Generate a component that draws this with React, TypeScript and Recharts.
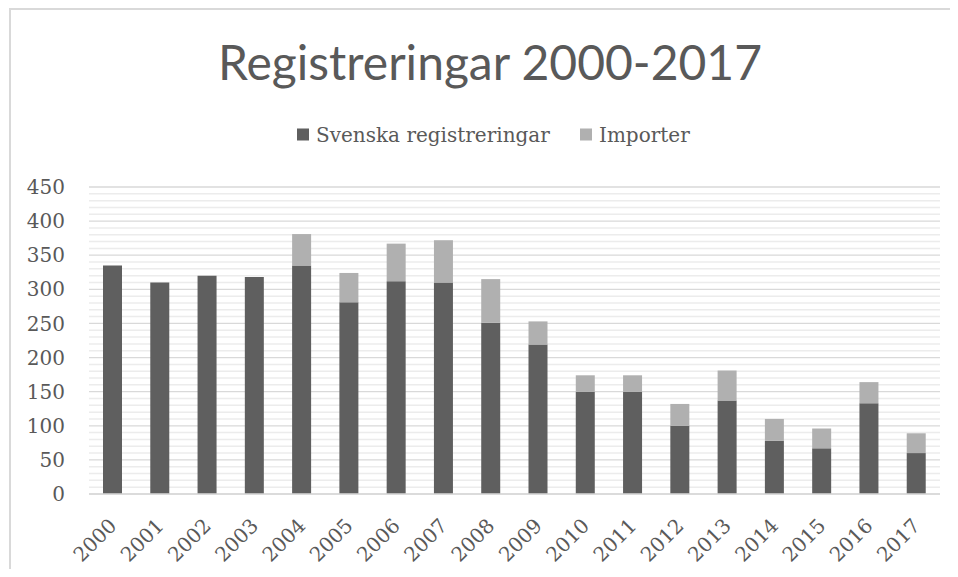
import React from 'react';
import { BarChart, Bar, XAxis, YAxis, CartesianGrid } from 'recharts';

const years = ['2000', '2001', '2002', '2003', '2004', '2005', '2006', '2007', '2008', '2009', '2010', '2011', '2012', '2013', '2014', '2015', '2016', '2017'];
const svenska = [335, 310, 320, 318, 335, 281, 312, 310, 251, 219, 150, 150, 100, 137, 78, 67, 133, 60];
const importer = [0, 0, 0, 0, 46, 43, 55, 62, 64, 34, 24, 24, 32, 44, 32, 29, 31, 29];
const yTicks = [0, 50, 100, 150, 200, 250, 300, 350, 400, 450];
const minorValues = [10, 20, 30, 40, 60, 70, 80, 90, 110, 120, 130, 140, 160, 170, 180, 190, 210, 220, 230, 240, 260, 270, 280, 290, 310, 320, 330, 340, 360, 370, 380, 390, 410, 420, 430, 440];
const yDomain = [0, 450];

const title = 'Registreringar 2000-2017';
const seriesNames = ['Svenska registreringar', 'Importer'];

const data = years.map((y, i) => ({ year: y, svenska: svenska[i], importer: importer[i] }));

const DARK = '#5f5f5f';
const LIGHT = '#b0b0b0';
const TEXT = '#595959';
const SERIF = "'DejaVu Serif', serif";

const XTick = (props: any) => {
  const { x, y, payload } = props;
  const ax = x + 5;
  const ay = y + 33;
  return (
    <text x={ax} y={ay} transform={`rotate(-45, ${ax}, ${ay})`} textAnchor="end" fill={TEXT} fontSize={20} fontFamily={SERIF}>
      {payload.value}
    </text>
  );
};

const toY = (p: any, v: number) => {
  const s = p && p.yAxis && p.yAxis.scale;
  if (typeof s === 'function') return s(v);
  if (s && typeof s.map === 'function') return s.map(v);
  const off = (p && p.offset) || {};
  return off.top + off.height * (1 - (v - yDomain[0]) / (yDomain[1] - yDomain[0]));
};

const minorGen = (p: any) => minorValues.map((v) => toY(p, v));
const majorGen = (p: any) => yTicks.map((v) => toY(p, v));

export default function App() {
  return (
    <div style={{ position: 'relative', width: 950, height: 569, marginBottom: -8, overflow: 'hidden', background: '#fff' }}>
      <div style={{ position: 'absolute', left: 1, top: 0, width: 960, height: 600, borderLeft: '2px solid #d9d9d9', borderTop: '2px solid #d9d9d9' }} />
      <BarChart width={950} height={569} data={data} margin={{ top: 179, right: 18, bottom: 23, left: 0 }} barSize={19}>
        <CartesianGrid vertical={false} horizontalCoordinatesGenerator={minorGen} stroke="#ececec" strokeWidth={1.5} />
        <CartesianGrid vertical={false} horizontalCoordinatesGenerator={majorGen} stroke="#d9d9d9" strokeWidth={1.3} />
        <XAxis dataKey="year" height={60} tickLine={false} axisLine={{ stroke: '#d9d9d9', strokeWidth: 1.3 }} tickSize={0} tickMargin={0} tick={<XTick />} interval={0} />
        <YAxis width={81} domain={yDomain} ticks={yTicks} tickLine={false} axisLine={false} tickSize={0} tickMargin={24} tick={{ fill: TEXT, fontSize: 20, fontFamily: SERIF }} />
        <Bar dataKey="svenska" stackId="a" fill={DARK} isAnimationActive={false} />
        <Bar dataKey="importer" stackId="a" fill={LIGHT} isAnimationActive={false} />
      </BarChart>
      <svg width={950} height={569} style={{ position: 'absolute', left: 0, top: 0, pointerEvents: 'none' }}>
        <text x={482} y={72} textAnchor="middle" fill={TEXT} fontSize={48} fontFamily="Lato, 'Open Sans', sans-serif" fontWeight={400} textLength={544} lengthAdjust="spacingAndGlyphs">
          {title}
        </text>
        <rect x={289} y={120.5} width={12} height={12} fill={DARK} />
        <text x={308} y={134} fill={TEXT} fontSize={20} fontFamily={SERIF}>{seriesNames[0]}</text>
        <rect x={572} y={120.5} width={12} height={12} fill={LIGHT} />
        <text x={591} y={134} fill={TEXT} fontSize={20} fontFamily={SERIF}>{seriesNames[1]}</text>
      </svg>
    </div>
  );
}
